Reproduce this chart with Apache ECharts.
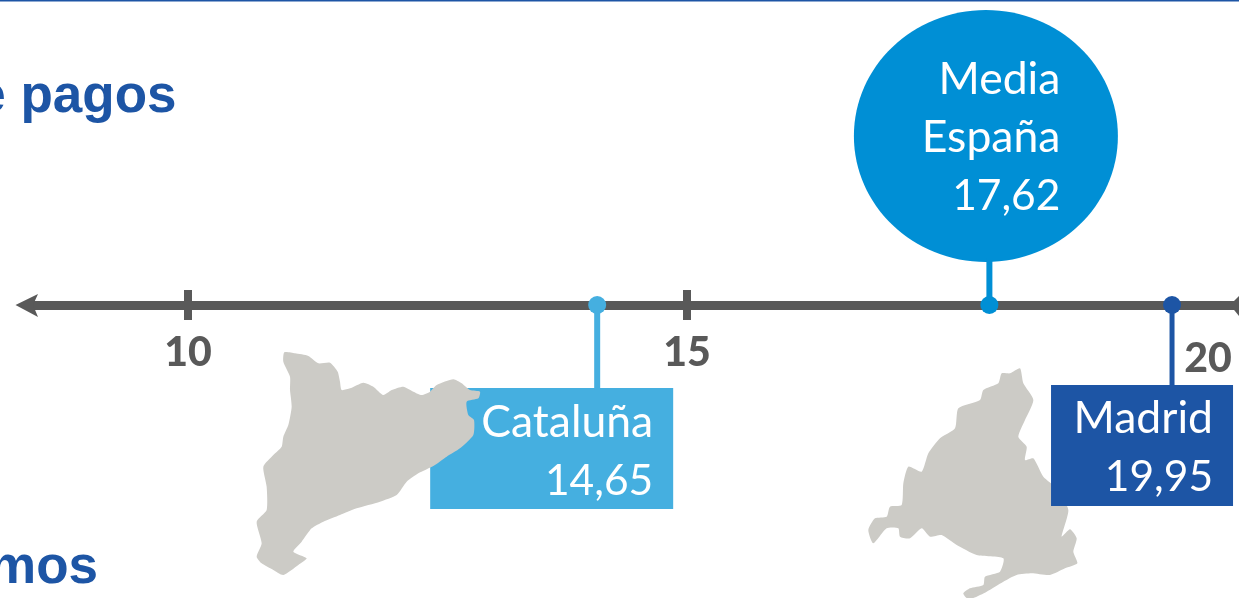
<!DOCTYPE html>
<html>
<head>
<meta charset="utf-8">
<script src="https://cdn.jsdelivr.net/npm/echarts@6/dist/echarts.min.js"></script>
<style>html,body{margin:0;padding:0;background:#fff;overflow:hidden}#c{width:1239px;height:598px}</style>
</head>
<body>
<div id="c"></div>
<script>
// ---- data ----
const regionNames = ['Cataluña', 'Media\nEspaña', 'Madrid'];
const printedValues = ['14,65', '17,62', '19,95'];
// where the dots actually sit on the drawn scale (the source is not to scale with its labels)
const dotPositions = [14.10, 18.03, 19.86];
const tickValues = [10, 15];
const tickLabelValues = [10, 15, 20];
const tickLabels = ['10', '15', '20'];
const titleFragments = ['e pagos', 'mos'];

// ---- styling ----
const BLUE = '#1D55A5', SKY = '#45AFE0', CYAN = '#008FD5', GREY = '#595959', MAP = '#CCCBC6';
const FONT = 'Lato, "Noto Sans", sans-serif';
const AXIS_LEFT = 30, AXIS_Y = 305;
const callouts = [
  { color: SKY,  kind: 'box',    left: -167, right: 76, top: 388, bottom: 509, textRight: 56,  textY: 452, lw: 6 },
  { color: CYAN, kind: 'ellipse', cx: -3.5, cy: 136, rx: 132, ry: 126, stemTop: 258, textRight: 71, textY: 138, lw: 6 },
  { color: BLUE, kind: 'box',    left: -121, right: 61, top: 385, bottom: 506, textRight: 41, textY: 448, lw: 5 }
];

const catalunaOutline = [[133,37],[165,40],[205,48],[235,70],[270,68],[293,95],[300,125],[305,150],[330,145],[370,128],[400,140],[430,165],[455,150],[490,140],[520,155],[545,165],[570,155],[590,135],[640,118],[665,130],[690,150],[720,155],[715,175],[680,185],[685,225],[702,240],[700,285],[660,325],[620,350],[580,378],[535,400],[500,425],[470,465],[420,485],[350,505],[300,525],[250,545],[215,565],[185,605],[160,635],[200,655],[175,675],[130,705],[100,690],[65,670],[50,650],[65,610],[50,545],[80,510],[80,440],[70,380],[100,345],[125,320],[130,290],[145,255],[155,200],[150,150],[150,110],[130,65]];
const madridOutline = [[480,265],[490,310],[520,360],[495,420],[475,470],[500,500],[495,540],[520,535],[550,590],[590,625],[625,690],[605,770],[630,748],[650,775],[640,815],[652,850],[615,865],[570,885],[515,880],[470,885],[430,905],[380,935],[340,954],[320,954],[310,940],[330,925],[370,915],[375,890],[420,875],[430,835],[350,825],[290,795],[245,765],[210,770],[185,745],[150,775],[120,770],[115,745],[80,745],[40,790],[25,750],[45,715],[80,710],[90,680],[125,675],[130,610],[145,560],[185,575],[205,520],[240,475],[285,445],[295,385],[360,360],[370,330],[415,310],[425,280],[450,280]];

const chart = echarts.init(document.getElementById('c'), null, { renderer: 'canvas' });

function renderCallout(params, api) {
  const i = api.value(1);
  const c = callouts[i];
  const [x] = api.coord([api.value(0), 0]);
  const kids = [];
  if (c.kind === 'box') {
    kids.push({ type: 'rect', shape: { x: x + c.left, y: c.top, width: c.right - c.left, height: c.bottom - c.top }, style: { fill: c.color } });
    kids.push({ type: 'rect', shape: { x: x - c.lw / 2, y: AXIS_Y, width: c.lw, height: c.top - AXIS_Y }, style: { fill: c.color } });
  } else {
    kids.push({ type: 'ellipse', shape: { cx: x + c.cx, cy: c.cy, rx: c.rx, ry: c.ry }, style: { fill: c.color } });
    kids.push({ type: 'rect', shape: { x: x - c.lw / 2, y: c.stemTop, width: c.lw, height: AXIS_Y - c.stemTop }, style: { fill: c.color } });
  }
  kids.push({ type: 'circle', shape: { cx: x, cy: AXIS_Y, r: 9 }, style: { fill: c.color } });
  const names = regionNames[i].split('\n');
  const lines = names.concat(printedValues[i]);
  lines.forEach((t, k) => {
    const isValue = k === lines.length - 1;
    kids.push({ type: 'text', style: {
      text: t, x: x + c.textRight, y: c.textY + (k - (lines.length - 1) / 2) * 58,
      align: 'right', verticalAlign: 'middle', fill: '#fff',
      font: '400 ' + (isValue ? 42.5 : 44.5) + 'px ' + FONT
    } });
  });
  return { type: 'group', children: kids };
}

function renderTickLabel(params, api) {
  const v = api.value(0);
  const [x] = api.coord([v, 0]);
  const shifted = v === 20;
  return { type: 'text', style: {
    text: tickLabels[params.dataIndex], x: x + (shifted ? 22 : 0), y: AXIS_Y + (shifted ? 54 : 48),
    align: 'center', verticalAlign: 'middle', fill: GREY, font: '900 41px ' + FONT
  } };
}

const option = {
  animation: false,
  backgroundColor: '#fff',
  grid: { left: AXIS_LEFT, right: 0, top: 0, bottom: 598 - AXIS_Y },
  xAxis: {
    type: 'value',
    min: 10 - (188 - AXIS_LEFT) / 99.8,
    max: 10 + (1239 - 188) / 99.8,
    splitLine: { show: false },
    axisTick: { show: false },
    axisLabel: { show: false },
    axisLine: { show: true, onZero: false, lineStyle: { color: GREY, width: 9 } }
  },
  yAxis: { type: 'value', min: 0, max: 1, show: false },
  series: [
    { type: 'scatter', name: 'ticks', z: 3, silent: true, symbol: 'rect', symbolSize: [8, 30],
      itemStyle: { color: GREY, opacity: 1 }, data: tickValues.map(v => [v, 0]) },
    { type: 'custom', name: 'tickLabels', z: 3, silent: true, clip: false, renderItem: renderTickLabel,
      data: tickLabelValues.map(v => [v, 0]) },
    { type: 'custom', name: 'callouts', z: 10, silent: true, clip: false, renderItem: renderCallout,
      data: dotPositions.map((p, i) => [p, i]) }
  ],
  graphic: [
    { type: 'rect', shape: { x: 0, y: 0, width: 1239, height: 1.5 }, style: { fill: BLUE }, z: 20 },
    { type: 'polygon', shape: { points: [[15.5, 305], [38, 294], [33, 305], [38, 317]] }, style: { fill: GREY }, z: 4 },
    { type: 'polygon', shape: { points: [[1230, 305], [1239, 296], [1239, 316]] }, style: { fill: GREY }, z: 4 },
    { type: 'polygon', x: 860, y: 280, scaleX: 1 / 3, scaleY: 1 / 3, shape: { points: madridOutline, smooth: 0.2 }, style: { fill: MAP }, z: 1 },
    { type: 'polygon', x: 240, y: 340, scaleX: 1 / 3, scaleY: 1 / 3, shape: { points: catalunaOutline, smooth: 0.2 }, style: { fill: MAP }, z: 50 },
    { type: 'text', z: 20, style: { text: titleFragments[0], x: 176.5, y: 97, align: 'right', verticalAlign: 'middle', fill: BLUE, font: '700 53px "Liberation Sans", Arial, sans-serif' } },
    { type: 'text', z: 20, style: { text: titleFragments[1], x: 98, y: 568, align: 'right', verticalAlign: 'middle', fill: BLUE, font: '700 53px "Liberation Sans", Arial, sans-serif' } }
  ]
};
chart.setOption(option);
</script>
</body>
</html>
